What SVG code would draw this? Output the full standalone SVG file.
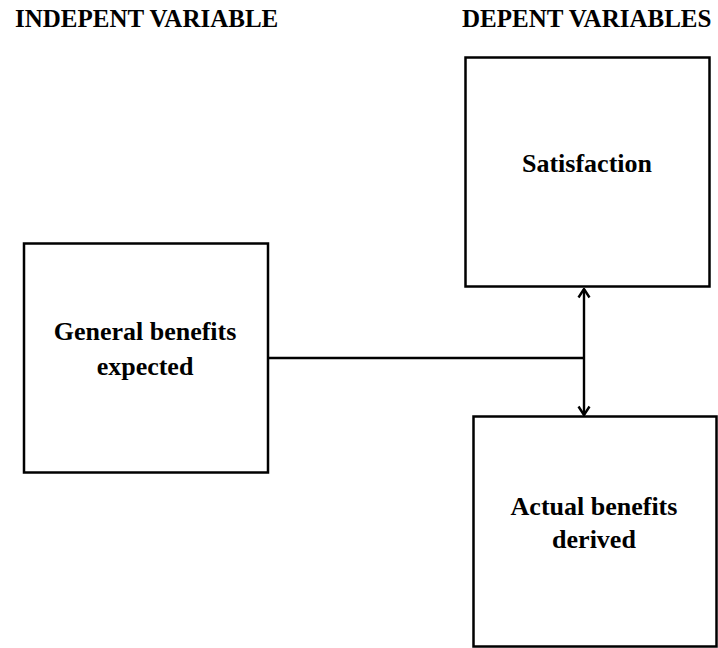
<svg xmlns="http://www.w3.org/2000/svg" width="718" height="648" viewBox="0 0 718 648">
<style>
.box{fill:#fff;stroke:#000;stroke-width:2.5}
.lbl{font-family:"Liberation Serif","Times New Roman",serif;font-weight:bold;font-size:26px;fill:#000;text-anchor:middle}
.hd{font-family:"Liberation Serif","Times New Roman",serif;font-weight:bold;font-size:25px;fill:#000}
.conn{fill:none;stroke:#000;stroke-width:2.4}
</style>
<defs>
<marker id="chev" viewBox="0 0 12 14" refX="10.5" refY="7" markerWidth="12" markerHeight="14" markerUnits="userSpaceOnUse" orient="auto-start-reverse">
<polyline points="2,1.5 10.5,7 2,12.5" fill="none" stroke="#000" stroke-width="2.4"/>
</marker>
</defs>
<rect width="718" height="648" fill="#fff"/>
<g id="headings">
<text class="hd" x="15" y="27">INDEPENT VARIABLE</text>
<text class="hd" x="462" y="27">DEPENT VARIABLES</text>
</g>
<g id="connectors">
<line class="conn" x1="268" y1="358" x2="584" y2="358"/>
<line class="conn" x1="584" y1="289" x2="584" y2="415" marker-start="url(#chev)" marker-end="url(#chev)"/>
</g>
<g id="node-general">
<rect class="box" x="24" y="243.5" width="244" height="229"/>
<text class="lbl" x="145" y="340">General benefits</text>
<text class="lbl" x="145" y="375">expected</text>
</g>
<g id="node-satisfaction">
<rect class="box" x="465.5" y="57.5" width="244" height="229"/>
<text class="lbl" x="587" y="172">Satisfaction</text>
</g>
<g id="node-actual">
<rect class="box" x="473.5" y="416.5" width="243" height="230"/>
<text class="lbl" x="594" y="515">Actual benefits</text>
<text class="lbl" x="594" y="548">derived</text>
</g>
</svg>
